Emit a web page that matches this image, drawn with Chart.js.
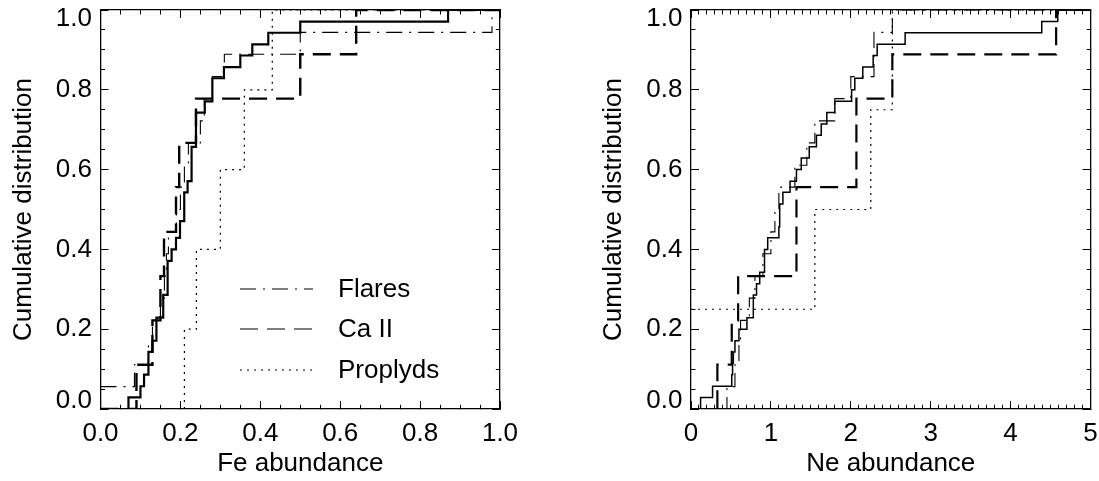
<!DOCTYPE html>
<html><head><meta charset="utf-8">
<script src="https://cdn.jsdelivr.net/npm/chart.js@4.4.1/dist/chart.umd.min.js"></script>
<style>
html,body{margin:0;padding:0;background:#fff;width:1099px;height:481px;overflow:hidden}
#c1{position:absolute;left:0;top:0}
#c2{position:absolute;left:550px;top:0}
</style></head><body>
<canvas id="c1" width="550" height="481"></canvas>
<canvas id="c2" width="549" height="481"></canvas>
<script>
// ---------- data ----------
const legendLabels = ['Flares', 'Ca II', 'Proplyds'];
const yTickLabels = ['0.0', '0.2', '0.4', '0.6', '0.8', '1.0'];
const feTickLabels = ['0.0', '0.2', '0.4', '0.6', '0.8', '1.0'];
const neTickLabels = ['0', '1', '2', '3', '4', '5'];

// Fe abundance panel: step positions (x) and cumulative fraction after each step (y)
const feAllX = [0, 0.07, 0.10, 0.109, 0.12, 0.13, 0.14, 0.157, 0.168, 0.178, 0.189, 0.199, 0.2096, 0.218, 0.228, 0.239, 0.261, 0.28, 0.309, 0.35, 0.38, 0.42, 0.50, 0.87, 1.0];
const feAllY = [0, 0.029, 0.057, 0.086, 0.143, 0.171, 0.229, 0.286, 0.371, 0.400, 0.429, 0.471, 0.543, 0.571, 0.657, 0.743, 0.771, 0.829, 0.857, 0.886, 0.914, 0.943, 0.971, 1.0, 1.0];
const feFlaresX = [0, 0.085, 0.12, 0.13, 0.15, 0.16, 0.165, 0.17, 0.19, 0.20, 0.21, 0.22, 0.25, 0.26, 0.28, 0.31, 0.50, 0.98, 1.0];
const feFlaresY = [0.056, 0.111, 0.167, 0.222, 0.278, 0.333, 0.389, 0.444, 0.5, 0.556, 0.611, 0.667, 0.722, 0.778, 0.833, 0.889, 0.944, 1.0, 1.0];
const feCaX = [0, 0.09, 0.13, 0.15, 0.159, 0.189, 0.197, 0.239, 0.50, 0.64, 1.0];
const feCaY = [0, 0.111, 0.222, 0.333, 0.444, 0.556, 0.667, 0.778, 0.889, 1.0, 1.0];
const feProX = [0, 0.21, 0.24, 0.30, 0.36, 0.43, 1.0];
const feProY = [0, 0.2, 0.4, 0.6, 0.8, 1.0, 1.0];

// Ne abundance panel
const neAllX = [0, 0.12, 0.27, 0.51, 0.52, 0.53, 0.55, 0.60, 0.70, 0.78, 0.82, 0.86, 0.92, 0.96, 1.10, 1.11, 1.15, 1.24, 1.32, 1.38, 1.48, 1.57, 1.63, 1.70, 1.80, 2.01, 2.05, 2.15, 2.28, 2.33, 2.68, 4.39, 4.59, 5.0];
const neAllY = [0, 0.029, 0.057, 0.086, 0.114, 0.143, 0.171, 0.2, 0.229, 0.286, 0.314, 0.343, 0.4, 0.429, 0.457, 0.514, 0.543, 0.571, 0.6, 0.629, 0.657, 0.686, 0.714, 0.743, 0.771, 0.8, 0.829, 0.857, 0.886, 0.914, 0.943, 0.971, 1.0, 1.0];
const neFlaresX = [0, 0.45, 0.55, 0.60, 0.62, 0.73, 0.80, 0.90, 1.00, 1.05, 1.10, 1.30, 1.45, 1.55, 1.80, 2.00, 2.29, 2.52, 5.0];
const neFlaresY = [0, 0.056, 0.111, 0.167, 0.222, 0.278, 0.333, 0.389, 0.444, 0.5, 0.556, 0.611, 0.667, 0.722, 0.778, 0.833, 0.944, 1.0, 1.0];
const neCaX = [0, 0.33, 0.51, 0.59, 1.32, 2.07, 2.52, 4.57, 5.0];
const neCaY = [0, 0.111, 0.222, 0.333, 0.556, 0.778, 0.889, 1.0, 1.0];
const neProX = [0, 1.55, 2.25, 2.52, 5.0];
const neProY = [0.25, 0.5, 0.75, 1.0, 1.0];

// ---------- helpers ----------
const FONT = "'Liberation Sans', Arial, Helvetica, sans-serif";
const FS = 26;
const pts = (xs, ys) => xs.map((x, i) => ({x: x, y: ys[i]}));
const isMajor = (v, major) => Math.abs(v / major - Math.round(v / major)) < 1e-6;
const MAJ = 8, MIN = 4.5;
function dashFor(startAtBorder, major) {
  return (c) => {
    const v = c.tick ? c.tick.value : 0;
    if (isMajor(v, major)) return [];
    return startAtBorder ? [MIN, 200] : [0, MAJ - MIN, MIN, 200];
  };
}
function gridOpts(startAtBorder, major) {
  return {display: true, drawOnChartArea: false, drawTicks: true, tickLength: -MAJ,
          tickColor: '#000', tickWidth: 1, tickBorderDash: dashFor(startAtBorder, major)};
}
const borderOpts = {display: true, color: '#000', width: 1.3};
function fitTo(prop, size) {
  return s => {
    s[prop] = size;
    s.paddingTop = 0; s.paddingBottom = 0; s.paddingLeft = 0; s.paddingRight = 0;
  };
}

const insideLegend = {
  id: 'insideLegend',
  afterDatasetsDraw(chart, args, o) {
    if (!o || !o.show) return;
    const ctx = chart.ctx;
    ctx.save();
    let row = 0;
    chart.data.datasets.forEach(ds => {
      if (!ds.label) return;
      const y = o.ys[row++];
      ctx.beginPath();
      ctx.strokeStyle = '#000';
      ctx.lineWidth = o.lineWidth;
      ctx.setLineDash(ds.borderDash || []);
      ctx.moveTo(o.x0, y); ctx.lineTo(o.x1, y);
      ctx.stroke();
      ctx.setLineDash([]);
      ctx.fillStyle = '#000';
      ctx.font = FS + 'px ' + FONT;
      ctx.textBaseline = 'middle';
      ctx.textAlign = 'left';
      ctx.fillText(ds.label, o.tx, y + 1);
    });
    ctx.restore();
  }
};

function build(id, c) {
  return new Chart(document.getElementById(id), {
    type: 'line',
    data: {datasets: c.datasets},
    plugins: [insideLegend],
    options: {
      responsive: false, animation: false, devicePixelRatio: 1,
      layout: {padding: {left: c.padLeft, right: c.padRight, top: 10, bottom: 0}},
      elements: {point: {radius: 0}, line: {tension: 0, borderCapStyle: 'butt', borderJoinStyle: 'miter'}},
      plugins: {legend: {display: false}, tooltip: {enabled: false}, insideLegend: c.legend},
      scales: {
        x: {type: 'linear', position: 'bottom', min: 0, max: c.xMax,
            afterFit: fitTo('height', 72),
            ticks: {stepSize: c.xStep, autoSkip: false, maxRotation: 0, minRotation: 0, padding: 17,
                    color: '#000', font: {family: FONT, size: FS},
                    callback: v => isMajor(v, c.xMajor) ? c.xLabels[Math.round(v / c.xMajor)] : ''},
            grid: gridOpts(true, c.xMajor), border: borderOpts,
            title: {display: true, text: c.xTitle, color: '#000', font: {family: FONT, size: FS}, padding: {top: 0, bottom: 2}}},
        x2: {type: 'linear', position: 'top', min: 0, max: c.xMax,
            afterFit: fitTo('height', 0),
            ticks: {stepSize: c.xStep, display: false},
            grid: gridOpts(false, c.xMajor), border: borderOpts},
        y: {type: 'linear', position: 'left', min: 0, max: 1,
            afterFit: fitTo('width', 100.5),
            ticks: {stepSize: 0.05, autoSkip: false, padding: 16.5, color: '#000',
                    font: {family: FONT, size: FS, lineHeight: 0.65},
                    callback: v => {
                      if (!isMajor(v, 0.2)) return '';
                      const k = Math.round(v / 0.2);
                      const lab = yTickLabels[k];
                      if (k === 0) return [lab, ''];
                      if (k === yTickLabels.length - 1) return ['', lab];
                      return lab;
                    }},
            grid: gridOpts(false, 0.2), border: borderOpts,
            title: {display: true, text: 'Cumulative distribution', color: '#000', font: {family: FONT, size: FS}, padding: {top: 8, bottom: 0}}},
        y2: {type: 'linear', position: 'right', min: 0, max: 1,
            afterFit: fitTo('width', 0),
            ticks: {stepSize: 0.05, display: false},
            grid: gridOpts(true, 0.2), border: borderOpts}
      }
    }
  });
}

function series(xs, ys, label, width, dash) {
  return {label: label, data: pts(xs, ys), stepped: 'before', borderColor: '#000',
          borderWidth: width, borderDash: dash, fill: false, pointRadius: 0};
}

build('c1', {
  xMax: 1, xStep: 0.05, xMajor: 0.2, xLabels: feTickLabels, xTitle: 'Fe abundance',
  padLeft: 0, padRight: 50,
  legend: {show: true, x0: 240, x1: 313, tx: 338, ys: [289, 329, 370], lineWidth: 1.2},
  datasets: [
    series(feAllX, feAllY, '', 2.2, []),
    series(feFlaresX, feFlaresY, legendLabels[0], 1.1, [16, 7, 2, 7]),
    series(feCaX, feCaY, legendLabels[1], 2.4, [18, 9]),
    series(feProX, feProY, legendLabels[2], 1.2, [2, 5])
  ]
});

build('c2', {
  xMax: 5, xStep: 0.1, xMajor: 1, xLabels: neTickLabels, xTitle: 'Ne abundance',
  padLeft: 40.5, padRight: 8.5,
  legend: {show: false},
  datasets: [
    series(neAllX, neAllY, '', 1.5, []),
    series(neFlaresX, neFlaresY, legendLabels[0], 1.1, [16, 7, 2, 7]),
    series(neCaX, neCaY, legendLabels[1], 2.2, [18, 9]),
    series(neProX, neProY, legendLabels[2], 1.2, [2, 5])
  ]
});
</script>
</body></html>
